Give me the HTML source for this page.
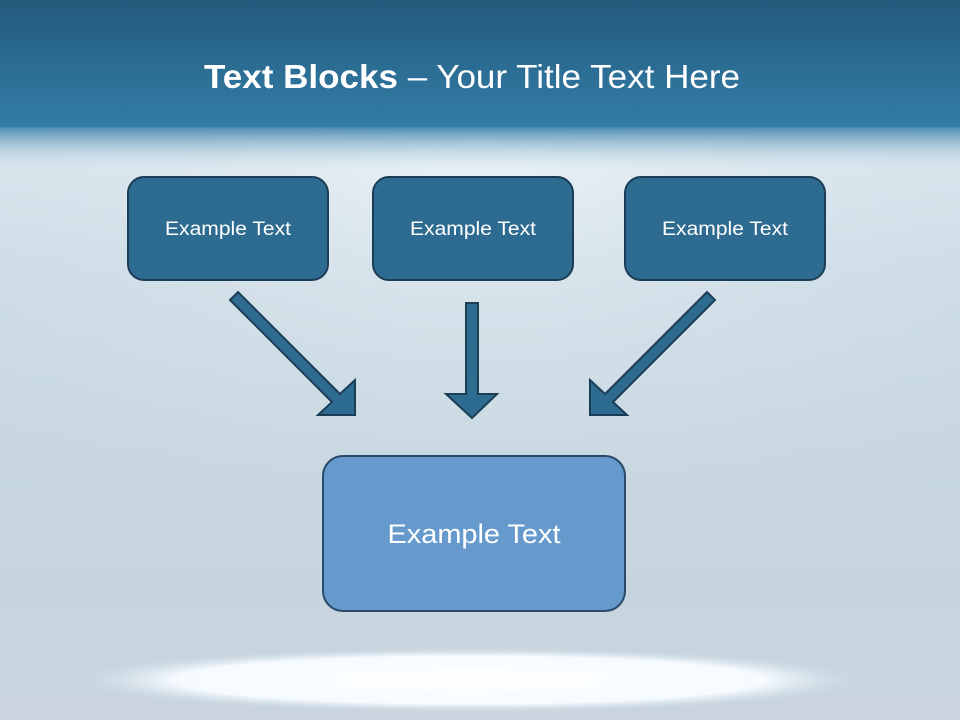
<!DOCTYPE html>
<html><head><meta charset="utf-8"><style>
html,body{margin:0;padding:0;width:960px;height:720px;overflow:hidden}
body{position:relative;background:linear-gradient(180deg,#dfeaf1 130px,#cddde7 260px,#c6d5df 500px,#c9d4de 720px);font-family:"Liberation Sans",sans-serif}
</style></head><body>
<svg width="960" height="720" style="position:absolute;left:0;top:0">
<defs>
<linearGradient id="hd" x1="0" y1="0" x2="0" y2="1"><stop offset="0" stop-color="#235a7c"/><stop offset="1" stop-color="#337da8"/></linearGradient>
<linearGradient id="fade" x1="0" y1="0" x2="0" y2="1"><stop offset="0" stop-color="#4c8bb3"/><stop offset="1" stop-color="#dbe8ef" stop-opacity="0"/></linearGradient>
<radialGradient id="glow" cx="0.5" cy="0.5" r="0.5"><stop offset="0" stop-color="#ffffff"/><stop offset="0.75" stop-color="#f6fbff"/><stop offset="1" stop-color="#d6e6ef" stop-opacity="0"/></radialGradient>
<radialGradient id="light" cx="0.5" cy="0" r="0.8"><stop offset="0" stop-color="#eef5f9" stop-opacity="0.8"/><stop offset="1" stop-color="#c6d5df" stop-opacity="0"/></radialGradient>
</defs>
<rect x="0" y="130" width="960" height="590" fill="url(#light)"/>
<rect x="0" y="0" width="960" height="128" fill="url(#hd)"/>
<rect x="0" y="127" width="960" height="45" fill="url(#fade)"/>
<ellipse cx="470" cy="680" rx="390" ry="32" fill="url(#glow)"/>
<text x="204" y="88" font-size="33" fill="#fff" textLength="536" lengthAdjust="spacingAndGlyphs"><tspan font-weight="bold">Text Blocks</tspan> – Your Title Text Here</text>
<g fill="#2e6b90" stroke="#1b3d55" stroke-width="2">
<rect x="128" y="177" width="200" height="103" rx="16"/>
<rect x="373" y="177" width="200" height="103" rx="16"/>
<rect x="625" y="177" width="200" height="103" rx="16"/>
<polygon points="230,300 332,402 318,415 355,415 355,380 340,394 238,292"/>
<polygon points="715,300 613,402 627,415 590,415 590,380 605,394 707,292"/>
<polygon points="466,303 478,303 478,394 497,394 472,418 446,394 466,394"/>
</g>
<rect x="323" y="456" width="302" height="155" rx="20" fill="#6699cc" stroke="#2a4a6a" stroke-width="2"/>
<g fill="#fff" font-size="19" text-anchor="middle">
<text x="228" y="235" textLength="126" lengthAdjust="spacingAndGlyphs">Example Text</text>
<text x="473" y="235" textLength="126" lengthAdjust="spacingAndGlyphs">Example Text</text>
<text x="725" y="235" textLength="126" lengthAdjust="spacingAndGlyphs">Example Text</text>
<text x="474" y="543" font-size="27" textLength="173" lengthAdjust="spacingAndGlyphs">Example Text</text>
</g>
</svg>
</body></html>
